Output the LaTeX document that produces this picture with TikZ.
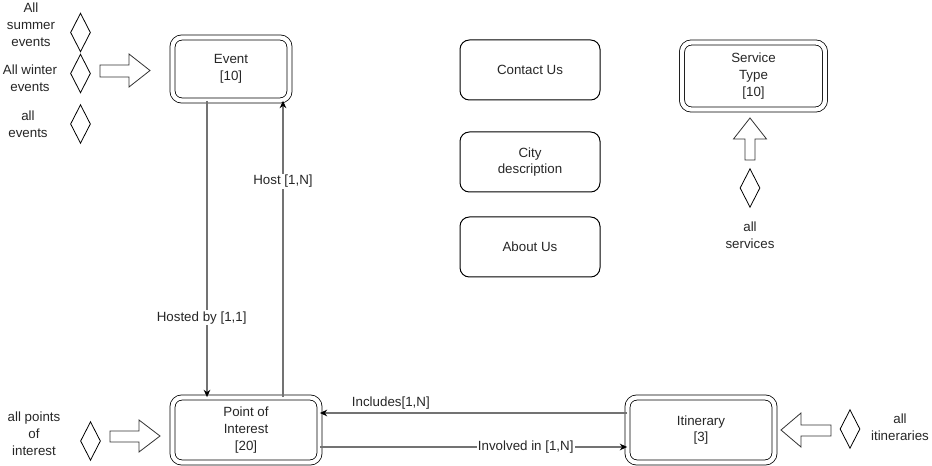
\documentclass[tikz,border=0pt]{standalone}
\usepackage{fontspec}
\setmainfont{Liberation Sans}
\usetikzlibrary{shapes.geometric,arrows.meta}
\begin{document}
\begin{tikzpicture}[x=0.75pt,y=-0.75pt,
  every node/.style={font=\fontsize{10}{12.5}\selectfont, text=black!85, align=center},
  dbox/.style={draw=black, line width=0.6pt, double=white, double distance=3.2pt, rounded corners=7pt, inner sep=0pt},
  sbox/.style={draw=black, line width=0.75pt, rounded corners=7pt, minimum width=105pt, minimum height=45pt, inner sep=0pt},
  dmd/.style={diamond, draw=black, line width=0.6pt, minimum width=15pt, minimum height=29pt, inner sep=0pt},
  barrow/.style={draw=black!80, line width=0.6pt, fill=white},
  conn/.style={draw=black!55, line width=1.1pt, -{Stealth[length=5.5pt,width=5pt,black]}},
  lbl/.style={fill=white, inner sep=1pt},
  txt/.style={inner sep=0pt, font=\fontsize{10}{12.75}\selectfont}
]
\useasboundingbox (0,0) rectangle (932,466);

% double boxes
\node[dbox, minimum width=87.75pt, minimum height=47.25pt] (ev) at (231,69) {Event\\{}[10]};
\node[dbox, minimum width=110.25pt, minimum height=48.75pt] (poi) at (246,430) {Point of\\Interest\\{}[20]};
\node[dbox, minimum width=110.25pt, minimum height=48.75pt] (itin) at (701,430) {Itinerary\\{}[3]};
\node[dbox, minimum width=107.25pt, minimum height=50.25pt] (svc) at (753.5,76) {Service\\Type\\{}[10]};

% single boxes
\node[sbox] (contact) at (530,70) {Contact Us};
\node[sbox] (city) at (530,162) {City\\description};
\node[sbox] (about) at (530,247) {About Us};

% connectors
\draw[conn] (207,0 |- ev.south) -- (207,0 |- poi.north)
  node[lbl, pos=0.732, xshift=-4pt] (lhb) {Hosted by [1,1]};
\draw[conn] (283,0 |- poi.north) -- (283,0 |- ev.south)
  node[lbl, pos=0.729] (lhost) {Host [1,N]};
\draw[conn] (itin.west |- 0,413) -- (poi.east |- 0,413)
  node[pos=0.769, above, inner sep=2pt] (linc) {Includes[1,N]};
\draw[conn] (poi.east |- 0,447) -- (itin.west |- 0,447)
  node[lbl, pos=0.67] (linv) {Involved in [1,N]};

% diamonds
\node[dmd] (d1) at (80.5,32.5) {};
\node[dmd] (d2) at (80.5,73.5) {};
\node[dmd] (d3) at (80.5,124) {};
\node[dmd] (d4) at (90.5,441) {};
\node[dmd] (d5) at (850,429) {};
\node[dmd] (d6) at (750,188) {};

% labels
\node[txt] (t1) at (31,25) {All\\summer\\events};
\node[txt] (t2) at (30,78) {All winter\\events};
\node[txt] (t3) at (28,124) {all\\events};
\node[txt] (t4) at (34,434) {all points\\of\\interest};
\node[txt] (t5) at (900,427) {all\\itineraries};
\node[txt] (t6) at (750,235) {all\\services};

% block arrows
\path[barrow] (100,65) -- (129,65) -- (129,54) -- (150,70.5) -- (129,87) -- (129,77) -- (100,77) -- cycle;
\path[barrow] (110,431) -- (139,431) -- (139,420) -- (160,436) -- (139,452) -- (139,442) -- (110,442) -- cycle;
\path[barrow] (831,425) -- (801,425) -- (801,413) -- (781,430) -- (801,447) -- (801,436) -- (831,436) -- cycle;
\path[barrow] (745,160) -- (745,139) -- (733.5,139) -- (750,118) -- (766.5,139) -- (755,139) -- (755,160) -- cycle;
\end{tikzpicture}
\end{document}
